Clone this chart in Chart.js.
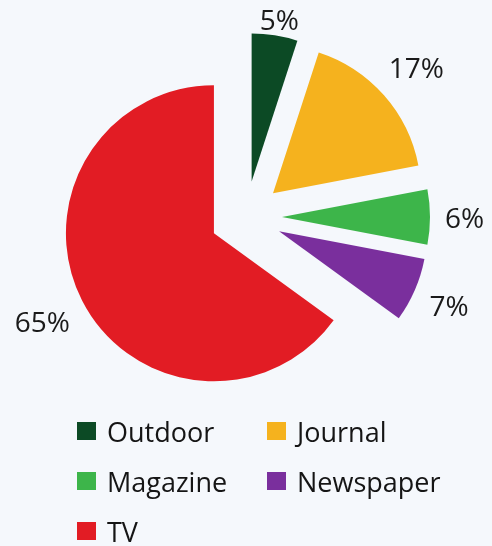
<!DOCTYPE html>
<html>
<head>
<meta charset="utf-8">
<script src="https://cdn.jsdelivr.net/npm/chart.js@4/dist/chart.umd.min.js"></script>
<style>
  html, body { margin: 0; padding: 0; background: #f5f8fc; overflow: hidden; }
  #wrap { position: relative; width: 492px; height: 546px; }
  #c { position: absolute; left: 0; top: 0; }
  #legend { position: absolute; left: 77px; top: 406px; width: 410px;
    display: grid; grid-template-columns: 190px 200px; grid-auto-rows: 50px;
    font-family: "Open Sans", sans-serif; font-size: 27px; color: #151515; }
  .item { display: flex; align-items: center; white-space: nowrap; }
  .box { width: 19px; height: 18px; margin-right: 11px; flex: none; }
</style>
</head>
<body>
<div id="wrap">
  <canvas id="c" width="492" height="434"></canvas>
  <div id="legend"></div>
</div>
<script>
const categories = ["Outdoor", "Journal", "Magazine", "Newspaper", "TV"];
const shares = [5, 17, 6, 7, 65];
const percentLabels = ["5%", "17%", "6%", "7%", "65%"];
const sliceColors = ["#0c4a25", "#f5b21e", "#3db54a", "#7a2f9d", "#e21c24"];

const OFFSET_PX = 36;

// draw each slice pushed outward along its mid-angle (library arc elements, offset 0)
const explodePlugin = {
  id: 'explode',
  beforeDatasetDraw(chart, args) {
    const ctx = chart.ctx;
    args.meta.data.forEach(arc => {
      const p = arc.getProps(['startAngle', 'endAngle'], true);
      const a = (p.startAngle + p.endAngle) / 2;
      ctx.save();
      ctx.translate(Math.cos(a) * OFFSET_PX, Math.sin(a) * OFFSET_PX);
      arc.draw(ctx, chart.chartArea);
      ctx.restore();
    });
    return false;
  }
};

const labelPlugin = {
  id: 'outsideLabels',
  afterDatasetsDraw(chart) {
    const ctx = chart.ctx;
    const meta = chart.getDatasetMeta(0);
    ctx.save();
    ctx.font = '28px "Open Sans", sans-serif';
    ctx.fillStyle = '#1a1a1a';
    ctx.textAlign = 'center';
    ctx.textBaseline = 'middle';
    meta.data.forEach((arc, i) => {
      const p = arc.getProps(['x', 'y', 'startAngle', 'endAngle', 'outerRadius'], true);
      const a = (p.startAngle + p.endAngle) / 2;
      const txt = percentLabels[i];
      const hw = ctx.measureText(txt).width / 2;
      const hh = 11;
      const d = p.outerRadius + OFFSET_PX + 15 + hw * Math.abs(Math.cos(a)) + hh * Math.abs(Math.sin(a));
      const x = p.x + Math.cos(a) * d;
      let y = p.y + Math.sin(a) * d + 3;
      y = Math.max(y, hh + 11);
      ctx.fillText(txt, x, y);
    });
    ctx.restore();
  }
};

new Chart(document.getElementById('c'), {
  type: 'pie',
  data: {
    labels: categories,
    datasets: [{
      data: shares,
      backgroundColor: sliceColors,
      borderWidth: 0,
      offset: 0
    }]
  },
  options: {
    responsive: false,
    animation: false,
    radius: 148,
    layout: { padding: 0 },
    plugins: {
      legend: { display: false },
      tooltip: { enabled: false }
    }
  },
  plugins: [explodePlugin, labelPlugin]
});

const legend = document.getElementById('legend');
categories.forEach((name, i) => {
  const item = document.createElement('div');
  item.className = 'item';
  const box = document.createElement('span');
  box.className = 'box';
  box.style.background = sliceColors[i];
  const label = document.createElement('span');
  label.textContent = name;
  item.appendChild(box);
  item.appendChild(label);
  legend.appendChild(item);
});
</script>
</body>
</html>
